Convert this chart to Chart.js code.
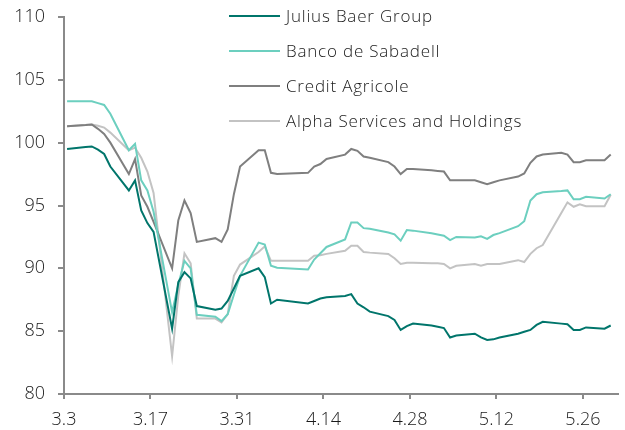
<!DOCTYPE html>
<html>
<head>
<meta charset="utf-8">
<script src="https://cdn.jsdelivr.net/npm/chart.js@4/dist/chart.umd.min.js"></script>
<style>
  html, body { margin: 0; padding: 0; background: #ffffff; }
  #wrap { width: 625px; height: 430px; }
</style>
</head>
<body>
<div id="wrap"><canvas id="c" width="625" height="430"></canvas></div>
<script>
// Trading days (month.day, 2023)
const dates = [
  "3.3","3.6","3.7","3.8","3.9","3.10","3.13","3.14","3.15","3.16","3.17",
  "3.20","3.21","3.22","3.23","3.24","3.27","3.28","3.29","3.30","3.31",
  "4.3","4.4","4.5","4.6","4.11","4.12","4.13","4.14",
  "4.17","4.18","4.19","4.20","4.21","4.24","4.25","4.26","4.27","4.28",
  "5.1","5.2","5.3","5.4","5.5","5.8","5.9","5.10","5.11","5.12",
  "5.15","5.16","5.17","5.18","5.19","5.22","5.23","5.24","5.25","5.26",
  "5.29","5.30"
];

const seriesNames = ["Julius Baer Group", "Banco de Sabadell", "Credit Agricole", "Alpha Services and Holdings"];

const juliusBaer = [
  99.5, 99.65, 99.7, 99.45, 99.1, 98.1, 96.2, 97.0, 94.6, 93.6, 92.9,
  85.2, 88.9, 89.7, 89.2, 87.0, 86.7, 86.8, 87.4, 88.4, 89.4,
  90.0, 89.3, 87.2, 87.5, 87.2, 87.4, 87.6, 87.7,
  87.8, 87.95, 87.2, 86.9, 86.55, 86.2, 85.9, 85.1, 85.4, 85.6,
  85.45, 85.35, 85.25, 84.5, 84.65, 84.8, 84.5, 84.3, 84.35, 84.5,
  84.8, 84.95, 85.1, 85.5, 85.75, 85.6, 85.55, 85.1, 85.1, 85.3,
  85.2, 85.45
];
const bancoSabadell = [
  103.3, 103.3, 103.3, 103.15, 103.0, 102.3, 99.4, 99.9, 97.0, 96.2, 94.5,
  86.5, 88.7, 90.6, 90.0, 86.3, 86.15, 85.8, 86.35, 87.9, 89.4,
  92.05, 91.9, 90.2, 90.05, 89.9, 90.7, 91.2, 91.7,
  92.3, 93.65, 93.65, 93.2, 93.15, 92.85, 92.7, 92.2, 93.05, 93.0,
  92.8, 92.7, 92.6, 92.25, 92.5, 92.45, 92.55, 92.35, 92.65, 92.8,
  93.35, 93.75, 95.4, 95.9, 96.05, 96.15, 96.2, 95.5, 95.5, 95.7,
  95.55, 95.9
];
const creditAgricole = [
  101.3, 101.4, 101.45, 101.1, 100.7, 100.0, 97.5, 98.7, 95.8, 94.9, 93.7,
  90.0, 93.8, 95.4, 94.4, 92.1, 92.4, 92.1, 93.1, 95.9, 98.1,
  99.4, 99.4, 97.6, 97.5, 97.6, 98.1, 98.3, 98.7,
  99.05, 99.5, 99.35, 98.9, 98.8, 98.45, 98.1, 97.5, 97.9, 97.9,
  97.8, 97.75, 97.7, 97.0, 97.0, 97.0, 96.85, 96.7, 96.85, 97.0,
  97.3, 97.55, 98.4, 98.9, 99.05, 99.2, 99.05, 98.45, 98.45, 98.6,
  98.6, 99.05
];
const alphaServices = [
  101.3, 101.4, 101.45, 101.35, 101.2, 100.8, 99.4, 99.6, 98.8, 97.7, 96.0,
  83.0, 87.8, 91.2, 90.4, 86.0, 86.0, 85.7, 86.35, 89.4, 90.3,
  91.3, 91.75, 90.6, 90.6, 90.6, 91.0, 91.05, 91.15,
  91.4, 91.8, 91.8, 91.3, 91.25, 91.15, 90.8, 90.35, 90.45, 90.45,
  90.4, 90.4, 90.35, 90.0, 90.2, 90.35, 90.2, 90.35, 90.35, 90.35,
  90.65, 90.5, 91.15, 91.6, 91.85, 94.4, 95.25, 94.9, 95.1, 94.95,
  94.95, 95.85
];

const xTickLabels = ["3.3", "3.17", "3.31", "4.14", "4.28", "5.12", "5.26"];
const yTickValues = [80, 85, 90, 95, 100, 105, 110];

const colors = ["#00756b", "#6ccfbf", "#7f7f7f", "#c3c3c3"];

function dayIndex(s) {
  const [m, d] = s.split(".").map(Number);
  return Math.round((Date.UTC(2023, m - 1, d) - Date.UTC(2023, 2, 3)) / 86400000);
}

function toPoints(vals) {
  return vals.map((v, i) => ({ x: dayIndex(dates[i]), y: v }));
}

const allSeries = [juliusBaer, bancoSabadell, creditAgricole, alphaServices];

const FONT = "'Open Sans', sans-serif";
const WEIGHT = 300;

const legendPlugin = {
  id: "sideLegend",
  afterDraw(chart) {
    const ctx = chart.ctx;
    ctx.save();
    ctx.font = WEIGHT + " 17px " + FONT;
    if ("letterSpacing" in ctx) ctx.letterSpacing = "0.8px";
    ctx.textBaseline = "middle";
    ctx.textAlign = "left";
    chart.data.datasets.forEach((ds, i) => {
      const y = 16 + i * 35;
      ctx.strokeStyle = ds.borderColor;
      ctx.lineWidth = 2;
      ctx.beginPath();
      ctx.moveTo(229, y);
      ctx.lineTo(280, y);
      ctx.stroke();
      ctx.fillStyle = "#1a1a1a";
      ctx.fillText(ds.label, 286, y + 1);
    });
    ctx.restore();
  }
};

new Chart(document.getElementById("c"), {
  type: "line",
  data: {
    datasets: allSeries.map((vals, i) => ({
      label: seriesNames[i],
      data: toPoints(vals),
      borderColor: colors[i],
      backgroundColor: colors[i],
      borderWidth: 2,
      pointRadius: 0,
      tension: 0,
      fill: false,
      order: i
    }))
  },
  options: {
    responsive: false,
    animation: false,
    devicePixelRatio: 1,
    layout: { padding: { top: 17, right: 7, left: 0, bottom: 0 } },
    plugins: {
      legend: { display: false },
      tooltip: { enabled: false }
    },
    scales: {
      x: {
        type: "linear",
        min: -0.5,
        max: 89.18,
        afterBuildTicks(scale) {
          scale.ticks = xTickLabels.map(l => ({ value: dayIndex(l) - 0.5 }));
        },
        afterFit(scale) {
          scale.height = 36;
          scale.paddingLeft = 0;
          scale.paddingRight = 0;
        },
        ticks: {
          autoSkip: false,
          maxRotation: 0,
          padding: 10,
          color: "#1a1a1a",
          font: { family: FONT, size: 18, weight: WEIGHT },
          callback: (v, i) => xTickLabels[i]
        },
        grid: { drawOnChartArea: false, drawTicks: true, tickLength: 5, color: "#8a8a8a", lineWidth: 2 },
        border: { color: "#8a8a8a", width: 2 }
      },
      y: {
        min: 80,
        max: 110,
        afterBuildTicks(scale) {
          scale.ticks = yTickValues.map(v => ({ value: v }));
        },
        afterFit(scale) {
          scale.width = 64;
          scale.paddingTop = 0;
          scale.paddingBottom = 0;
        },
        ticks: {
          padding: 13,
          color: "#1a1a1a",
          font: { family: FONT, size: 18, weight: WEIGHT }
        },
        grid: { drawOnChartArea: false, drawTicks: true, tickLength: 6, color: "#8a8a8a", lineWidth: 2 },
        border: { color: "#8a8a8a", width: 2 }
      }
    }
  },
  plugins: [legendPlugin]
});
</script>
</body>
</html>
